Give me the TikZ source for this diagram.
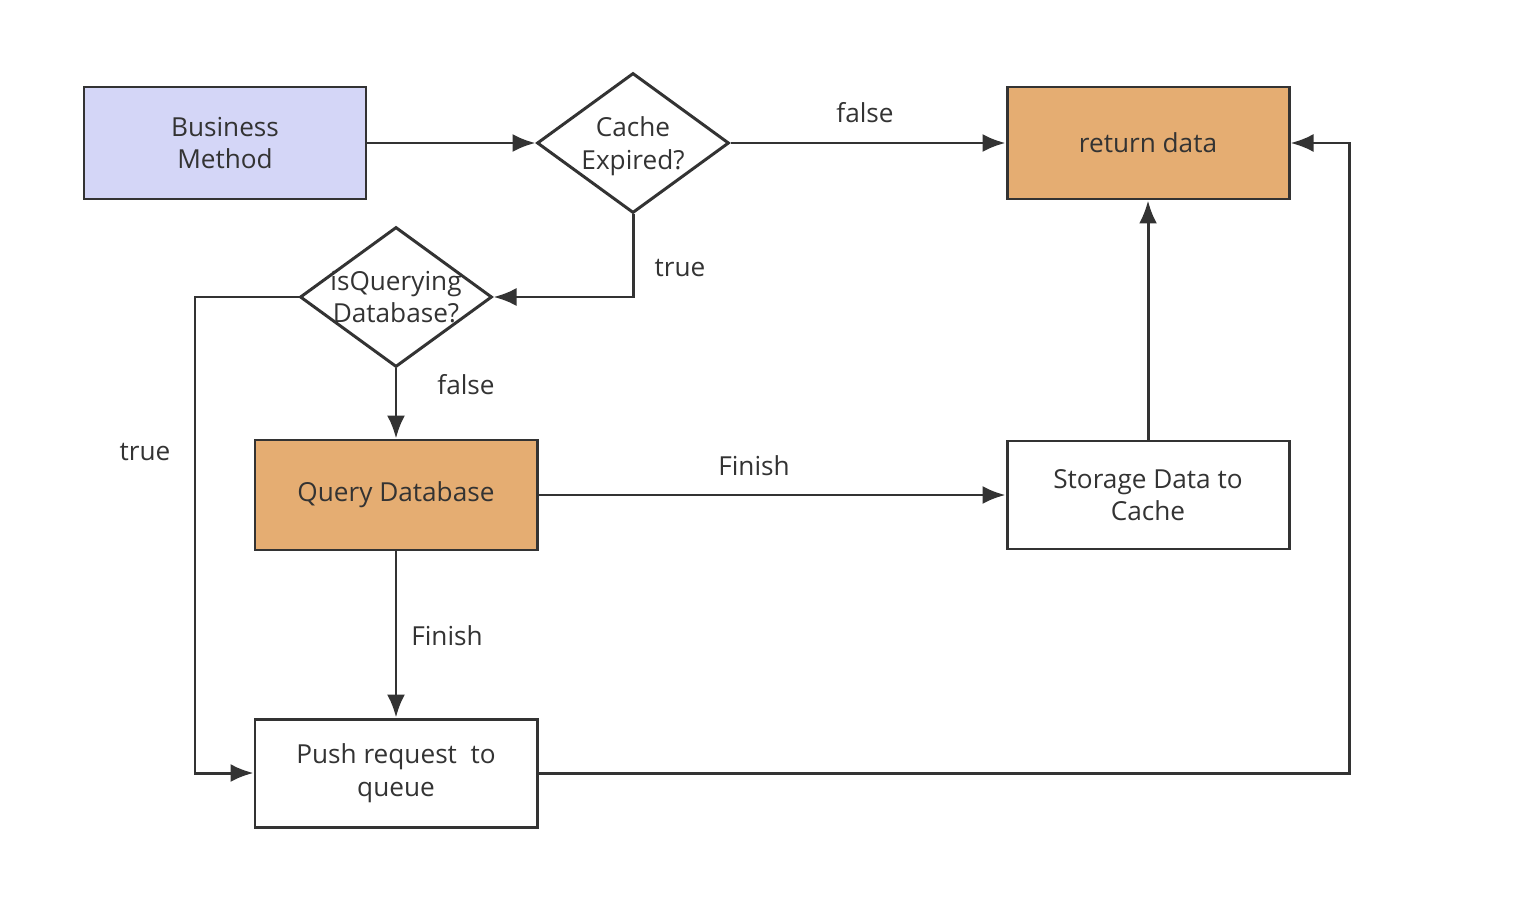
\documentclass[tikz,border=0pt]{standalone}
\usepackage{fontspec}
\setmainfont{Open Sans}
\usetikzlibrary{arrows.meta,shapes.geometric}

\definecolor{lineGray}{HTML}{333333}
\definecolor{bizBlue}{HTML}{D4D6F7}
\definecolor{hotOrange}{HTML}{E5AD72}

\tikzset{
  every node/.style={font=\fontsize{14.9}{18.6}\selectfont, text=lineGray},
  procbox/.style={draw=lineGray, line width=1.7pt, rectangle, minimum width=5.64cm, minimum height=2.2cm, align=center},
  decision/.style={draw=lineGray, line width=1.7pt, diamond, aspect=1.37, inner sep=0pt, minimum width=3.84cm, minimum height=2.8cm},
  flow/.style={draw=lineGray, line width=1.7pt, -{Latex[length=0.46cm,width=0.36cm]}},
  edgetext/.style={inner sep=1pt}
}

\begin{document}
\begin{tikzpicture}
\useasboundingbox (0,0) rectangle (30.4,-18.48);

\node[procbox, fill=bizBlue, minimum height=2.24cm] (bm) at (4.5,-2.86) {Business\\Method};
\node[decision, label={[align=center, yshift=-0.06cm]center:Cache\\Expired?}] (ce) at (12.66,-2.86) {};
\node[procbox, fill=hotOrange, minimum height=2.24cm] (rd) at (22.96,-2.86) {return data};
\node[decision, label={[align=center]center:isQuerying\\Database?}] (iq) at (7.92,-5.94) {};
\node[procbox, fill=hotOrange] (qd) at (7.92,-9.9) {Query Database};
\node[procbox, minimum height=2.16cm] (sd) at (22.96,-9.9) {Storage Data to\\Cache};
\node[procbox, minimum height=2.16cm] (pr) at (7.92,-15.46) {Push request~~to\\queue};

\coordinate (lt) at (3.9,-5.94);
\coordinate (rt) at (26.98,-9);

\draw[flow] (bm.east) -- (ce.west);
\draw[flow] (ce.east) -- (rd.west);
\draw[flow] (ce.south) |- (iq.east);
\draw[flow] (iq.west) -- (lt) |- (pr.west);
\draw[flow] (iq.south) -- (qd.north);
\draw[flow] (qd.east) -- (sd.west);
\draw[flow] (qd.south) -- (pr.north);
\draw[flow] (sd.north) -- (rd.south);
\draw[flow] (pr.east) -| (rt) |- (rd.east);

% edge texts
\node[edgetext] (tfalse1) at (17.3,-2.26) {false};
\node[edgetext] (ttrue1) at (13.6,-5.36) {true};
\node[edgetext] (ttrue2) at (2.9,-9.04) {true};
\node[edgetext] (tfalse2) at (9.32,-7.7) {false};
\node[edgetext] (tfin1) at (15.08,-9.32) {Finish};
\node[edgetext] (tfin2) at (8.94,-12.72) {Finish};
\end{tikzpicture}
\end{document}
